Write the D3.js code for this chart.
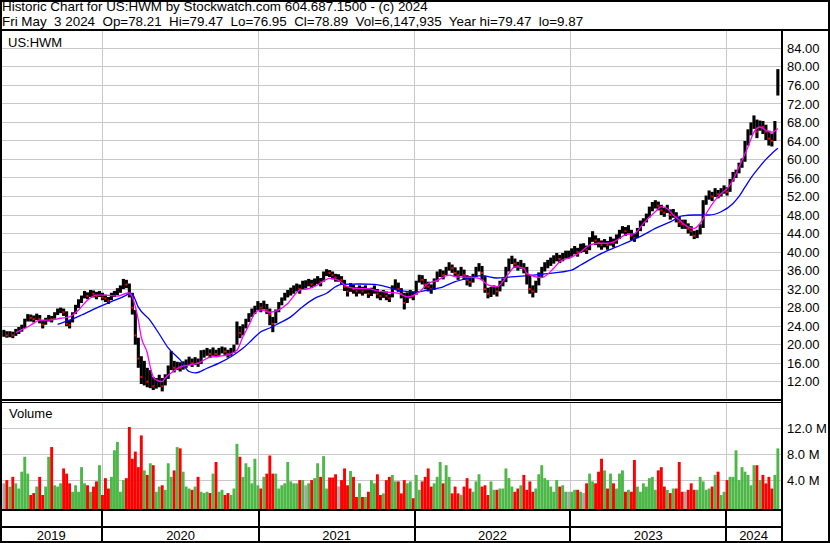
<!DOCTYPE html>
<html><head><meta charset="utf-8">
<script src="https://cdn.jsdelivr.net/npm/d3@7"></script>
<style>
html,body{margin:0;padding:0;background:#fff;}
svg text{font-family:"Liberation Sans",Arial,sans-serif;font-size:13px;fill:#000;}
</style></head><body>
<svg id="c" width="830" height="543"></svg>
<script>
// ---- data (weekly, first week centred on 2019-05-15) ----
const firstWeek = "2019-05-15";
const closes = [
22.5,22.0,22.3,22.0,22.8,23.0,23.5,25.0,26.0,25.8,
25.5,26.2,25.5,24.3,25.2,25.8,25.5,26.5,27.2,27.5,
27.0,24.5,24.2,26.5,28.0,29.0,30.0,31.0,30.5,31.2,
31.0,30.5,31.0,30.2,30.0,29.5,30.5,31.0,31.5,32.0,
33.5,33.0,31.0,28.0,22.0,17.0,13.0,14.0,12.0,12.5,
11.0,11.5,12.0,11.0,12.5,14.5,16.0,15.0,15.5,15.0,
15.5,16.0,16.5,16.0,16.5,16.0,17.5,18.0,18.5,18.0,
18.5,18.0,18.5,19.0,18.5,18.0,18.5,19.0,23.5,22.5,
23.5,25.0,26.0,27.0,27.5,28.5,28.0,28.5,27.5,26.5,
24.5,27.0,28.5,29.5,30.5,31.0,31.5,32.0,32.5,32.0,
33.0,33.0,33.5,33.0,33.5,34.0,33.5,35.0,35.8,35.5,
35.0,34.5,34.5,34.0,32.5,31.5,32.5,32.0,31.5,32.0,
31.5,32.0,31.0,31.5,32.0,31.0,30.5,31.0,30.5,30.0,
32.0,33.5,32.0,31.0,29.0,30.5,31.0,30.5,33.0,34.5,
34.0,33.0,32.5,32.0,33.5,35.0,35.5,35.0,36.0,37.0,
36.5,35.5,35.0,36.0,35.0,34.0,33.5,34.5,36.0,37.0,
35.5,32.0,31.0,31.5,32.0,31.5,33.0,33.5,36.0,38.0,
38.5,37.5,37.0,37.5,36.5,35.0,32.0,31.5,33.0,35.0,
36.0,37.0,37.5,38.0,38.5,39.0,38.5,39.0,39.5,39.5,
40.0,40.5,40.0,41.0,41.0,40.5,42.5,43.5,42.5,42.0,
41.5,42.0,41.5,42.5,42.0,43.0,44.0,45.0,44.5,45.0,
43.5,43.0,44.5,46.0,46.5,47.5,49.0,50.0,50.5,50.0,
49.0,48.5,49.5,48.0,48.5,47.5,46.5,46.0,46.0,45.0,
44.5,43.5,44.0,45.0,50.5,51.5,52.5,52.0,53.0,52.5,
53.0,53.5,53.0,55.0,56.5,57.0,58.5,59.5,63.0,65.5,
67.0,68.5,66.0,67.5,67.0,66.0,64.5,64.0,66.5,78.9];
const highs = [
23.2,22.9,22.9,22.8,23.4,23.8,24.3,25.6,26.6,26.5,
26.3,26.7,26.4,25.3,25.8,26.4,26.2,27.0,27.8,28.0,
27.8,27.2,25.3,27.0,28.6,29.8,30.6,31.6,31.3,31.8,
31.7,31.4,31.6,31.2,30.8,30.3,31.2,31.6,32.2,32.8,
34.2,34.0,33.2,31.2,27.5,21.5,17.5,16.5,15.0,14.5,
13.0,12.8,13.5,12.8,13.6,15.5,18.6,16.5,16.3,16.2,
16.4,16.8,17.4,17.0,17.3,17.0,18.8,18.9,19.3,19.0,
19.4,18.9,19.3,19.6,19.4,18.9,19.3,20.0,25.0,24.0,
24.4,25.6,26.8,27.8,28.4,29.4,29.0,29.5,28.8,27.8,
26.0,27.6,29.2,30.2,31.2,31.8,32.3,32.8,33.2,33.0,
33.8,33.9,34.2,34.0,34.3,34.8,34.4,35.8,36.3,36.1,
35.8,35.3,35.2,34.8,34.0,32.6,33.3,32.9,32.4,32.8,
32.5,32.8,32.0,32.3,32.8,32.0,31.4,31.8,31.5,30.9,
32.8,34.1,33.4,32.2,31.2,31.3,31.8,31.4,33.8,35.1,
35.0,34.2,33.6,33.0,34.3,35.8,36.3,36.0,36.8,37.8,
37.3,36.7,36.0,36.8,36.2,35.0,34.8,35.3,36.8,37.6,
37.0,34.8,32.3,32.5,32.8,32.6,33.8,34.3,36.8,38.6,
39.2,38.6,37.9,38.3,37.6,36.8,35.0,32.8,33.8,35.6,
36.8,37.8,38.3,38.8,39.3,39.8,39.4,39.8,40.3,40.3,
40.8,41.3,40.9,41.8,41.9,41.4,43.2,44.5,43.6,43.0,
42.5,42.8,42.4,43.3,42.9,43.8,44.8,45.6,45.4,45.8,
44.8,44.0,45.2,46.8,47.3,48.3,49.8,50.8,51.2,50.9,
50.2,49.5,50.2,49.2,49.3,48.6,47.6,47.0,47.0,46.2,
45.6,44.6,44.8,46.0,51.2,52.2,53.3,53.0,53.8,53.4,
53.8,54.4,54.0,55.8,57.3,57.8,59.3,60.2,64.0,66.5,
68.0,69.5,68.6,68.4,68.3,67.5,66.2,65.6,68.3,79.5];
const lows = [
21.7,21.5,21.6,21.4,21.9,22.3,22.8,23.6,25.0,25.0,
24.8,25.3,24.6,23.5,24.3,25.0,24.8,25.6,26.4,26.8,
26.2,24.0,23.5,24.8,26.6,27.9,29.0,30.0,29.8,30.3,
30.2,29.8,30.3,29.6,29.2,28.8,29.6,30.3,30.7,31.2,
32.0,32.2,30.2,26.5,20.0,15.0,11.5,11.2,10.8,10.6,
10.2,10.5,10.8,9.9,11.2,12.6,14.5,14.0,14.5,14.2,
14.6,15.0,15.6,15.2,15.6,15.2,15.8,17.2,17.6,17.1,
17.6,17.3,17.6,18.1,17.8,17.2,17.6,18.2,20.0,21.4,
22.0,23.5,24.9,26.0,26.6,27.5,27.0,27.6,26.6,24.2,
22.7,24.6,27.0,28.5,29.5,30.2,30.6,31.0,31.5,31.0,
32.0,32.1,32.6,32.2,32.6,33.1,32.6,33.6,34.8,34.6,
34.1,33.6,33.6,33.0,31.6,30.4,31.4,31.0,30.4,31.0,
30.6,31.0,30.1,30.5,31.0,30.0,29.6,30.1,29.6,29.2,
30.2,31.8,31.4,30.0,27.6,29.0,30.0,29.6,30.8,33.4,
33.0,32.0,31.5,31.0,31.8,33.6,34.6,34.1,35.0,36.0,
35.5,34.6,34.0,34.8,34.0,32.8,32.5,33.4,34.6,35.8,
34.0,31.2,30.0,30.3,30.8,30.4,31.5,32.6,33.5,35.8,
37.4,36.6,36.0,36.4,35.4,33.0,31.0,30.2,31.2,32.8,
34.6,35.8,36.5,37.0,37.5,38.0,37.6,38.0,38.6,38.6,
39.0,39.5,39.0,39.8,40.0,39.6,40.4,42.2,41.5,41.0,
40.5,41.0,40.5,41.4,41.0,41.8,42.8,44.0,43.5,44.0,
42.6,42.2,43.0,44.5,45.6,46.4,47.5,48.8,49.4,49.0,
48.0,47.6,48.4,47.0,47.4,46.4,45.4,45.0,45.0,44.0,
43.5,42.8,43.0,43.8,45.2,50.2,51.3,51.0,51.9,51.6,
52.0,52.6,52.2,53.0,55.2,56.0,57.0,58.2,59.5,63.0,
65.2,66.6,64.6,66.2,65.5,64.2,63.0,62.8,64.0,73.8];
// weekly volume, millions
const volumes = [
3.5,4.0,3.0,4.5,3.5,2.7,5.3,7.6,5.0,1.7,
2.0,3.0,4.5,1.7,3.0,7.6,9.1,3.2,3.0,3.5,
5.8,5.0,3.5,2.2,3.2,2.2,6.0,3.5,3.2,2.2,
3.0,3.8,6.3,1.7,4.3,2.7,4.5,8.6,9.9,2.2,
4.0,4.3,12.2,7.3,8.4,6.0,10.9,5.5,4.8,6.6,
6.3,2.2,3.0,3.2,2.5,6.6,4.5,5.5,9.1,8.9,
5.3,3.0,2.7,2.5,3.0,4.5,2.2,2.0,2.2,2.0,
5.0,6.8,2.2,2.5,1.7,2.0,1.7,2.7,9.6,7.6,
4.5,6.6,6.0,3.5,7.3,3.2,2.7,4.5,5.0,7.8,
5.0,5.0,2.7,3.2,3.5,6.8,3.8,3.5,3.5,4.0,
4.0,3.2,3.5,4.0,4.3,6.6,4.5,7.7,2.7,4.4,
4.4,4.9,3.0,4.0,5.8,3.2,5.4,4.5,1.4,3.5,
1.4,1.4,2.2,4.0,3.5,4.9,1.7,1.95,4.0,4.5,
4.8,3.8,3.8,1.95,4.0,3.5,3.8,1.2,4.8,2.5,
3.8,4.5,5.8,3.0,3.5,4.5,6.8,3.5,6.3,4.5,
1.95,3.0,1.95,1.7,3.0,4.3,2.7,2.2,3.8,4.9,
3.0,3.2,1.7,3.8,2.5,2.5,2.7,2.7,5.8,4.3,
3.0,2.2,2.7,3.2,4.8,2.5,3.8,2.2,2.7,4.9,
6.3,4.3,4.0,3.0,2.2,4.0,3.0,3.2,2.2,2.2,
2.2,2.5,2.5,2.2,2.0,3.5,5.0,3.8,3.5,5.3,
7.3,5.5,2.7,5.0,3.5,2.7,5.0,5.5,2.2,2.5,
2.2,7.1,3.0,2.2,3.5,3.0,4.3,4.5,2.5,5.5,
6.0,3.0,2.5,2.0,2.7,2.7,6.8,2.2,2.2,2.5,
3.5,2.5,2.5,4.5,3.8,2.5,2.7,3.0,4.8,5.3,
1.7,2.2,4.0,4.5,4.5,8.6,4.0,6.0,5.3,4.8,
3.2,6.3,6.3,4.0,4.8,3.5,4.5,2.7,4.8,8.9];
// moving averages (week index -> value)
const fastMAWeeks = [4,7,10,12,15,19,22,25,28,31,34,38,41,42,43,44,45,46,48,49,50,51,53,54,56,59,62,65,69,72,75,78,80,82,84,86,89,92,95,99,102,105,109,112,115,119,122,125,129,132,135,139,142,145,149,152,155,159,162,165,169,171,174,175,180,184,186,190,193,196,199,202,204,208,211,214,218,220,222,224,226,229,231,233,235,238,240,242,244,246,249,251,253,255,257,259];
const fastMAValues = [22.6,23.5,24.6,25.3,25.3,25.7,26.0,27.5,29.6,30.7,30.7,30.5,31.1,31.2,30.3,28.2,25.3,21.6,18.2,15.2,13.0,12.4,12.0,12.8,13.9,15.2,15.6,16.0,17.3,17.5,17.8,18.8,21.7,24.2,26.8,27.5,27.0,27.5,28.9,31.8,32.1,32.9,34.3,33.9,32.5,32.1,32.1,31.6,31.3,31.1,30.3,31.4,33.2,33.9,35.0,34.6,34.6,34.3,32.9,32.5,35.4,36.8,36.5,35.4,34.5,36.5,37.9,38.9,40.0,41.5,41.9,41.9,42.2,43.7,44.0,46.2,48.7,49.8,49.4,48.0,46.9,45.4,45.1,46.2,48.3,51.2,52.6,53.7,55.5,58.4,62.7,65.9,67.0,66.3,65.9,66.7];
const slowMAWeeks = [18,22,26,32,36,41,42,43,45,49,52,55,59,62,64,68,72,76,80,83,86,89,92,96,100,104,108,111,113,119,124,129,133,138,142,147,151,156,160,165,169,175,181,190,193,196,200,205,209,214,218,223,227,231,236,240,244,246,248,250,253,255,257,259];
const slowMAValues = [24.4,25.3,26.4,28.2,29.3,30.7,31.1,30.9,28.1,25.2,22.3,19.3,16.7,14.2,13.9,14.9,16.0,17.4,19.2,21.0,22.8,23.6,24.6,26.0,28.2,30.0,31.1,32.5,33.0,33.1,33.0,32.3,31.6,31.4,31.8,32.5,33.6,34.4,34.9,34.4,34.6,34.9,35.3,36.1,37.2,38.3,39.7,41.1,42.2,43.7,45.1,46.5,47.8,48.0,48.0,48.7,50.5,52.0,54.0,56.0,58.5,60.0,61.3,62.4];
const priceTicks = [12,16,20,24,28,32,36,40,44,48,52,56,60,64,68,72,76,80,84];
const volumeTicks = [4,8,12];
const yearLabels = ["2019","2020","2021","2022","2023","2024"];
const yearStarts = ["2020-01-01","2021-01-01","2022-01-01","2023-01-01","2024-01-01"];
const headerLine1 = "Historic Chart for US:HWM by Stockwatch.com 604.687.1500 - (c) 2024";
const headerLine2 = "Fri May  3 2024  Op=78.21  Hi=79.47  Lo=76.95  Cl=78.89  Vol=6,147,935  Year hi=79.47  lo=9.87";
const symbol = "US:HWM";

// ---- layout ----
const W = 830, H = 543;
const plotL = 2, plotR = 781;
const priceTop = 31, priceBot = 399;
const volTop = 403, volBot = 509;
const GRID = "#c8c8c8";
const svg = d3.select("#c");
svg.append("rect").attr("width", W).attr("height", H).attr("fill", "#fff");

const parse = d3.utcParse("%Y-%m-%d");
const x = d3.scaleUtc().domain([parse("2019-05-06"), parse("2024-05-06")]).range([0, 780]);
const yP = d3.scaleLinear().domain([12, 84]).range([381.7, 48.3]);
const yV = d3.scaleLinear().domain([0, 12]).range([506, 428.3]);
const weeks = closes.map((c, i) => ({
  date: d3.utcDay.offset(parse(firstWeek), 7 * i),
  c, h: highs[i], l: lows[i], v: volumes[i],
  dir: i === 0 ? 0 : Math.sign(c - closes[i - 1])
}));
const yearX = yearStarts.map(s => x(parse(s)));

// ---- header ----
svg.append("text").attr("x", 2).attr("y", 11).style("font-size", "13.4px")
  .attr("xml:space", "preserve").style("white-space", "pre").text(headerLine1);
svg.append("text").attr("x", 2).attr("y", 26).style("font-size", "13.4px")
  .attr("xml:space", "preserve").style("white-space", "pre").text(headerLine2);

// ---- grids ----
const grid = svg.append("g").attr("stroke", GRID).attr("stroke-width", 1).attr("shape-rendering", "crispEdges");
priceTicks.forEach(t => grid.append("line").attr("x1", plotL).attr("x2", plotR).attr("y1", yP(t)).attr("y2", yP(t)));
volumeTicks.forEach(t => grid.append("line").attr("x1", plotL).attr("x2", plotR).attr("y1", yV(t)).attr("y2", yV(t)));
yearX.forEach(xx => {
  grid.append("line").attr("x1", xx).attr("x2", xx).attr("y1", priceTop).attr("y2", priceBot);
  grid.append("line").attr("x1", xx).attr("x2", xx).attr("y1", volTop).attr("y2", volBot);
});

svg.append("text").attr("x", 8).attr("y", 47).text(symbol);
svg.append("text").attr("x", 9).attr("y", 418).text("Volume");

// ---- clip ----
svg.append("clipPath").attr("id", "pc").append("rect").attr("x", plotL).attr("y", priceTop).attr("width", plotR - plotL).attr("height", priceBot - priceTop);

// ---- price bars ----
const pg = svg.append("g").attr("clip-path", "url(#pc)");
pg.selectAll("rect.bar").data(weeks).join("rect").attr("class", "bar")
  .attr("x", d => x(d.date) - 1.55).attr("width", 3.1)
  .attr("y", d => yP(d.h)).attr("height", d => Math.max(1, yP(d.l) - yP(d.h)))
  .attr("fill", "#000");
pg.selectAll("rect.cl").data(weeks.filter(d => d.dir < 0)).join("rect").attr("class", "cl")
  .attr("x", d => x(d.date) - 1).attr("width", 2)
  .attr("y", d => yP(d.c) - 1).attr("height", 2)
  .attr("fill", "#ff0000");

// ---- moving averages ----
const wx = i => x(d3.utcDay.offset(parse(firstWeek), 7 * i));
const line = d3.line().x(d => wx(d[0])).y(d => yP(d[1])).curve(d3.curveMonotoneX);
pg.append("path").datum(slowMAWeeks.map((w, i) => [w, slowMAValues[i]]))
  .attr("d", line).attr("fill", "none").attr("stroke", "#0000ff").attr("stroke-width", 1.3);
pg.append("path").datum(fastMAWeeks.map((w, i) => [w, fastMAValues[i]]))
  .attr("d", line).attr("fill", "none").attr("stroke", "#ff00ff").attr("stroke-width", 1.3);

// ---- volume bars ----
const colour = d => d.dir > 0 ? "#4db848" : d.dir < 0 ? "#ff0000" : "#a8a8a8";
svg.append("g").selectAll("rect").data(weeks).join("rect")
  .attr("x", d => x(d.date) - 1.45).attr("width", 2.9)
  .attr("y", d => yV(d.v)).attr("height", d => volBot - yV(d.v))
  .attr("fill", colour);

// ---- axes ----
const pa = svg.append("g").attr("transform", `translate(${plotR + 1},0)`)
  .call(d3.axisRight(yP).tickValues(priceTicks).tickFormat(d3.format(".2f")).tickSize(0).tickPadding(5));
pa.select(".domain").remove();
pa.selectAll("text").attr("font-family", null).attr("font-size", null).attr("fill", "#000");
const va = svg.append("g").attr("transform", `translate(${plotR + 1},0)`)
  .call(d3.axisRight(yV).tickValues(volumeTicks).tickFormat(d => d.toFixed(1) + " M").tickSize(0).tickPadding(5));
va.select(".domain").remove();
va.selectAll("text").attr("font-family", null).attr("font-size", null).attr("fill", "#000");

// ---- frame lines ----
const fr = svg.append("g").attr("stroke", "#000").attr("shape-rendering", "crispEdges");
fr.append("line").attr("x1", 0).attr("x2", W).attr("y1", 30).attr("y2", 30).attr("stroke-width", 2);
fr.append("line").attr("x1", 0).attr("x2", plotR).attr("y1", 400).attr("y2", 400).attr("stroke-width", 2);
fr.append("line").attr("x1", 0).attr("x2", plotR).attr("y1", 402.5).attr("y2", 402.5).attr("stroke-width", 1);
fr.append("line").attr("x1", 0).attr("x2", plotR).attr("y1", 510).attr("y2", 510).attr("stroke-width", 2);
fr.append("line").attr("x1", 0).attr("x2", plotR).attr("y1", 527).attr("y2", 527).attr("stroke-width", 2);
fr.append("line").attr("x1", plotR + 1).attr("x2", plotR + 1).attr("y1", 30).attr("y2", H).attr("stroke-width", 2);
yearX.forEach(xx => fr.append("line").attr("x1", xx).attr("x2", xx).attr("y1", 510).attr("y2", H).attr("stroke-width", 2));
fr.append("rect").attr("x", 1).attr("y", 1).attr("width", W - 2).attr("height", H - 2).attr("fill", "none").attr("stroke-width", 2);

// ---- year labels ----
const bounds = [0, ...yearX, plotR];
yearLabels.forEach((lab, i) => {
  svg.append("text").attr("x", (bounds[i] + bounds[i + 1]) / 2).attr("y", 540)
    .attr("text-anchor", "middle").text(lab);
});
</script>
</body></html>
